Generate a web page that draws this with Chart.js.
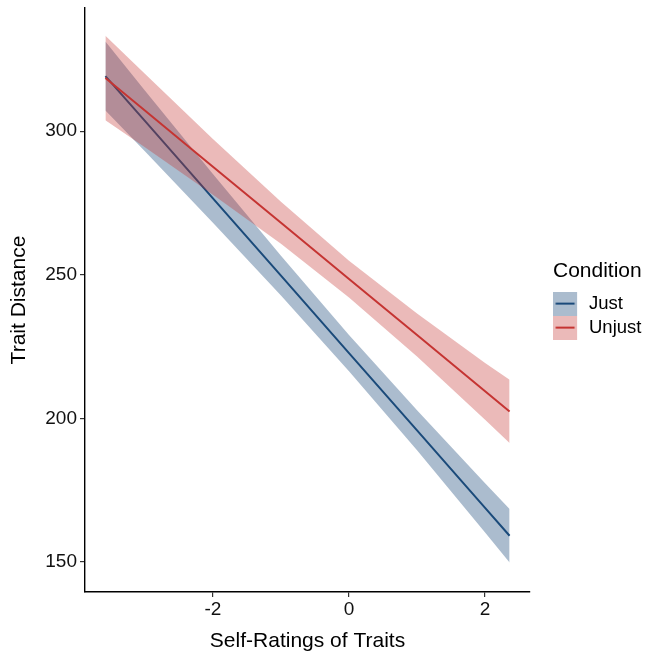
<!DOCTYPE html>
<html>
<head>
<meta charset="utf-8">
<title>Trait Distance by Self-Ratings of Traits</title>
<script src="https://cdn.jsdelivr.net/npm/chart.js@4.4.1/dist/chart.umd.min.js"></script>
<style>
  html, body { margin: 0; padding: 0; background: #fff; }
  #wrap { width: 646px; height: 654px; }
</style>
</head>
<body>
<div id="wrap"><canvas id="chart" width="646" height="654"></canvas></div>
<script>
// values
const xVals = [-3.58, -3, -2, -1, 0, 1, 2, 2.36];

const justFit   = [319.2, 303.6, 276.6, 249.7, 222.7, 195.8, 168.8, 159.1];
const justUpper = [331.2, 314.2, 285.1, 256.6, 229.0, 202.8, 177.4, 168.4];
const justLower = [307.2, 293.0, 268.1, 242.8, 216.4, 188.9, 160.2, 149.8];

const unjustFit   = [318.5, 307.2, 287.6, 268.1, 248.5, 229.0, 209.4, 202.4];
const unjustUpper = [333.2, 320.0, 297.3, 275.4, 254.9, 236.5, 219.3, 213.4];
const unjustLower = [303.8, 294.4, 277.9, 260.8, 242.1, 221.5, 199.5, 191.4];

const xTicks = [-2, 0, 2];
const yTicks = [150, 200, 250, 300];
const conditions = ['Just', 'Unjust'];

const FONT = 'Liberation Sans, Arial, sans-serif';
const lineColors = ['rgb(26,74,122)', 'rgb(197,52,50)'];
const bandColors = ['rgba(26,74,122,0.37)', 'rgba(197,52,50,0.34)'];

function pts(arr) {
    return xVals.map((x, i) => ({x: x, y: arr[i]}));
}

// legend key: ribbon square with the line across it
function legendKey(fill, line) {
    const c = document.createElement('canvas');
    c.width = 32;
    c.height = 24;
    const g = c.getContext('2d');
    g.fillStyle = fill;
    g.fillRect(0, 0, 24, 24);
    g.strokeStyle = line;
    g.lineWidth = 2;
    g.beginPath();
    g.moveTo(2.5, 12);
    g.lineTo(21.5, 12);
    g.stroke();
    return c;
}
const keys = [legendKey(bandColors[0], lineColors[0]), legendKey(bandColors[1], lineColors[1])];

function band(label, data, color, order) {
    return {label: label, data: pts(data), borderWidth: 0, pointRadius: 0, backgroundColor: color, fill: false, order: order};
}

const datasets = [
    Object.assign(band('Just upper', justUpper, bandColors[0], 6), {fill: '+1'}),
    band('Just lower', justLower, bandColors[0], 5),
    {label: 'Just', data: pts(justFit), borderColor: lineColors[0], borderWidth: 2, pointRadius: 0, fill: false, order: 4},
    Object.assign(band('Unjust upper', unjustUpper, bandColors[1], 3), {fill: '+1'}),
    band('Unjust lower', unjustLower, bandColors[1], 2),
    {label: 'Unjust', data: pts(unjustFit), borderColor: lineColors[1], borderWidth: 2, pointRadius: 0, fill: false, order: 1}
];

const ctx = document.getElementById('chart').getContext('2d');
const chart = new Chart(ctx, {
    type: 'line',
    data: {datasets: datasets},
    options: {
        responsive: false,
        animation: false,
        devicePixelRatio: 1,
        layout: {padding: {top: 8, left: 0, right: 0, bottom: 0}},
        elements: {line: {tension: 0}},
        plugins: {
            tooltip: {enabled: false},
            legend: {
                position: 'right',
                fullSize: false,
                maxWidth: 93,
                title: {
                    display: true,
                    text: 'Condition',
                    position: 'start',
                    color: '#000',
                    font: {family: FONT, size: 21},
                    padding: {top: 3, bottom: 3}
                },
                labels: {
                    usePointStyle: true,
                    pointStyleWidth: 21.25,
                    padding: 5.5,
                    color: '#000',
                    font: {family: FONT, size: 18.5},
                    generateLabels: function(chart) {
                        return conditions.map((name, i) => ({
                            text: name,
                            datasetIndex: i === 0 ? 2 : 5,
                            pointStyle: keys[i],
                            fillStyle: bandColors[i],
                            strokeStyle: lineColors[i],
                            lineWidth: 0,
                            hidden: false,
                            fontColor: '#000'
                        }));
                    }
                }
            }
        },
        scales: {
            x: {
                type: 'linear',
                min: -3.88,
                max: 2.66,
                afterBuildTicks: function(scale) {
                    scale.ticks = xTicks.map(v => ({value: v}));
                },
                afterFit: function(scale) {
                    scale.height = 62;
                    scale.paddingLeft = 0;
                    scale.paddingRight = 0;
                },
                grid: {drawOnChartArea: false, drawTicks: true, tickLength: 5, color: '#333', lineWidth: 1.2},
                border: {display: true, color: '#000', width: 1.4},
                ticks: {color: '#111', padding: 1, font: {family: FONT, size: 19}},
                title: {display: true, text: 'Self-Ratings of Traits', color: '#000', font: {family: FONT, size: 21}, padding: {top: 0, bottom: 0}}
            },
            y: {
                type: 'linear',
                min: 139.5,
                max: 342.9,
                afterBuildTicks: function(scale) {
                    scale.ticks = yTicks.map(v => ({value: v}));
                },
                afterFit: function(scale) {
                    scale.width = 85;
                    scale.paddingTop = 0;
                    scale.paddingBottom = 0;
                },
                grid: {drawOnChartArea: false, drawTicks: true, tickLength: 5, color: '#333', lineWidth: 1.2},
                border: {display: true, color: '#000', width: 1.4},
                ticks: {color: '#111', padding: 3, font: {family: FONT, size: 19}},
                title: {display: true, text: 'Trait Distance', color: '#000', font: {family: FONT, size: 21}, padding: {top: 7, bottom: 0}}
            },
            gap: {
                type: 'linear',
                position: 'right',
                display: true,
                grid: {display: false},
                border: {display: false},
                ticks: {display: false},
                afterFit: function(scale) {
                    scale.width = 23;
                    scale.paddingTop = 0;
                    scale.paddingBottom = 0;
                }
            }
        }
    }
});
</script>
</body>
</html>
